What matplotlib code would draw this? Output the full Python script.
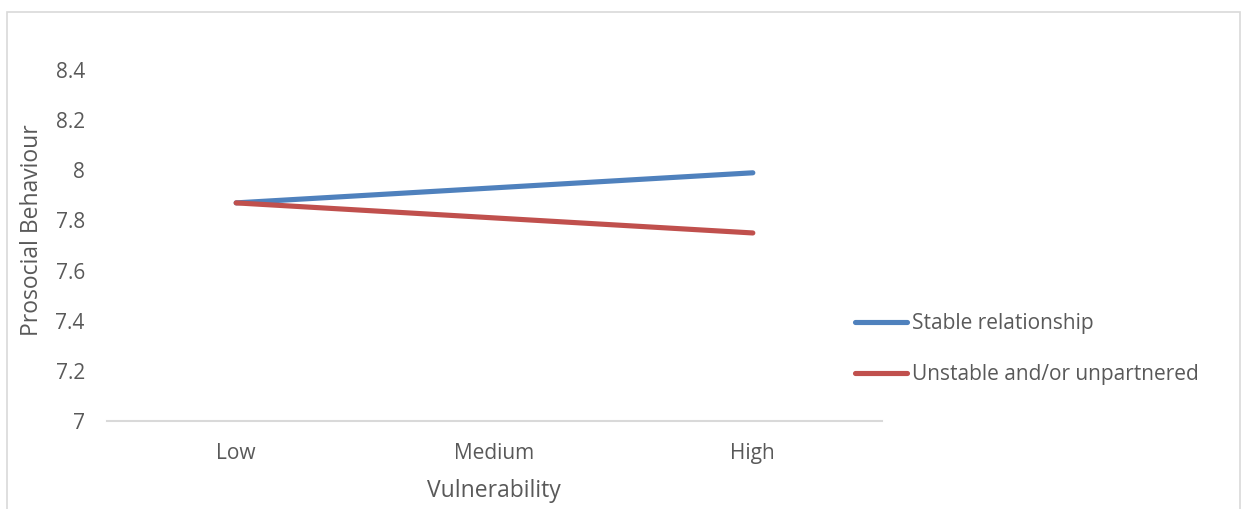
import matplotlib
matplotlib.use("Agg")
import matplotlib.pyplot as plt
from matplotlib.patches import Rectangle

levels = ["Low", "Medium", "High"]
stable = [7.87, 7.93, 7.99]
unstable = [7.87, 7.81, 7.75]
series_names = ["Stable relationship", "Unstable and/or unpartnered"]
yticks = [7, 7.2, 7.4, 7.6, 7.8, 8, 8.2, 8.4]
ytick_labels = ["7", "7.2", "7.4", "7.6", "7.8", "8", "8.2", "8.4"]

plt.rcParams['font.family'] = ['Open Sans', 'DejaVu Sans']
grey = '#595959'

fig = plt.figure(figsize=(12.41, 5.09), dpi=100)
ax = fig.add_axes([107/1241, 1-421/509, (882-107)/1241, (421-70)/509])

x = range(len(levels))
l1, = ax.plot(x, stable, color='#4f81bd', lw=3.7, solid_capstyle='round')
l2, = ax.plot(x, unstable, color='#c0504d', lw=3.7, solid_capstyle='round')

ax.set_xlim(-0.5, 2.5)
ax.set_ylim(7, 8.4)
ax.set_xticks(list(x))
ax.set_xticklabels(levels)
ax.set_yticks(yticks)
ax.set_yticklabels(ytick_labels)
ax.tick_params(axis='both', length=0, labelsize=15, colors=grey)
ax.tick_params(axis='y', pad=16)
ax.tick_params(axis='x', pad=16)
for s in ['top', 'right', 'left']:
    ax.spines[s].set_visible(False)
ax.spines['bottom'].set_color('#d9d9d9')
ax.spines['bottom'].set_linewidth(1.5)

fig.text(494/1241, 1-491/509, "Vulnerability", ha='center', va='center', fontsize=16.5, color=grey)
fig.text(32/1241, 1-230/509, "Prosocial Behaviour", ha='center', va='center', rotation=90, fontsize=16.5, color=grey)

fig.legend([l1, l2], series_names, loc='center left', bbox_to_anchor=(836/1241, 1-349/509),
           frameon=False, fontsize=15, labelcolor=grey, handlelength=2.5, handletextpad=0.25,
           labelspacing=1.45)

fig.patches.append(Rectangle((7/1241, -0.05), (1240-7)/1241, 1.05-12/509, transform=fig.transFigure,
                             fill=False, edgecolor='#d9d9d9', lw=1.2))

fig.savefig("out.png", dpi=100)
